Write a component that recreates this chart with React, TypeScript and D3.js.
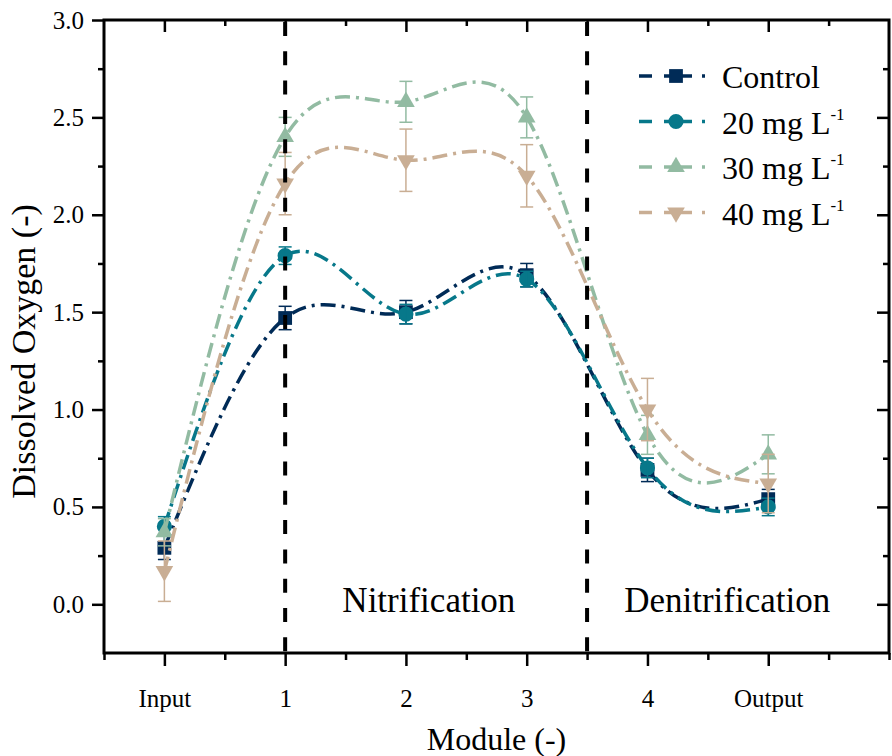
import React, { useEffect, useRef } from 'react';
import * as d3 from 'd3';

// module positions on the x axis
const modules = ['Input', '1', '2', '3', '4', 'Output'];

// dissolved oxygen means and error bars
const controlDO = [0.29, 1.47, 1.50, 1.69, 0.69, 0.54];
const controlErr = [0.06, 0.06, 0.06, 0.06, 0.06, 0.05];
const mg20DO = [0.40, 1.79, 1.49, 1.67, 0.70, 0.50];
const mg20Err = [0.05, 0.045, 0.05, 0.04, 0.05, 0.045];
const mg30DO = [0.37, 2.40, 2.58, 2.50, 0.87, 0.77];
const mg30Err = [0.07, 0.10, 0.105, 0.105, 0.10, 0.10];
const mg40DO = [0.17, 2.16, 2.28, 2.20, 1.00, 0.62];
const mg40Err = [0.155, 0.16, 0.16, 0.16, 0.16, 0.15];

const seriesLabels = ['Control', '20 mg L', '30 mg L', '40 mg L'];
const seriesColors = ['#002b57', '#07788a', '#92bba2', '#c9ae94'];
const yTicks = [0, 0.5, 1, 1.5, 2, 2.5, 3];
const yMinor = [0.25, 0.75, 1.25, 1.75, 2.25, 2.75];
const xMinor = [-0.5, 0.5, 1.5, 2.5, 3.5, 4.5, 5.5, 6];
const dividers = [1, 3.5];
const regions = [{ name: 'Nitrification', at: 2.19 }, { name: 'Denitrification', at: 4.66 }];

const W = 892;
const H = 756;
const FONT = '"Liberation Serif", "Times New Roman", serif';

export default function App() {
  const ref = useRef<SVGSVGElement>(null);

  useEffect(() => {
    const svg = d3.select(ref.current);
    svg.selectAll('*').remove();

    const left = 104, top = 20, right = 889, bottom = 653;
    const x = d3.scaleLinear().domain([-0.5, 6]).range([left, right]);
    const y = d3.scaleLinear().domain([-0.25, 3.0]).range([bottom, top]);

    const series = [
      { mean: controlDO, err: controlErr, sym: d3.symbolSquare, size: 190, rot: 0 },
      { mean: mg20DO, err: mg20Err, sym: d3.symbolCircle, size: 180, rot: 0 },
      { mean: mg30DO, err: mg30Err, sym: d3.symbolTriangle, size: 135, rot: 0 },
      { mean: mg40DO, err: mg40Err, sym: d3.symbolTriangle, size: 135, rot: 180 },
    ];

    const styleAxis = (g: any) => {
      g.select('.domain').remove();
      g.attr('font-family', FONT);
      g.selectAll('line').attr('stroke', '#000').attr('stroke-width', 2.5);
      g.selectAll('text').attr('font-family', FONT).attr('font-size', 25).attr('fill', '#000');
    };

    // axes: left / bottom outward, top / right inward
    svg.append('g').attr('transform', `translate(${left},0)`)
      .call(d3.axisLeft(y).tickValues(yTicks).tickSize(12).tickPadding(8).tickFormat(d3.format('.1f')))
      .call(styleAxis);
    svg.append('g').attr('transform', `translate(${left},0)`)
      .call(d3.axisLeft(y).tickValues(yMinor).tickSize(6).tickFormat(() => ''))
      .call(styleAxis);
    svg.append('g').attr('transform', `translate(0,${bottom})`)
      .call(d3.axisBottom(x).tickValues(d3.range(modules.length)).tickSize(13).tickPadding(23)
        .tickFormat(i => modules[i as number]))
      .call(styleAxis);
    svg.append('g').attr('transform', `translate(0,${bottom})`)
      .call(d3.axisBottom(x).tickValues(xMinor).tickSize(7).tickFormat(() => ''))
      .call(styleAxis);
    svg.append('g').attr('transform', `translate(0,${top})`)
      .call(d3.axisTop(x).tickValues(d3.range(modules.length)).tickSize(-12).tickFormat(() => ''))
      .call(styleAxis);
    svg.append('g').attr('transform', `translate(0,${top})`)
      .call(d3.axisTop(x).tickValues(xMinor.filter(v => v > -0.5 && v < 6)).tickSize(-6).tickFormat(() => ''))
      .call(styleAxis);
    svg.append('g').attr('transform', `translate(${right},0)`)
      .call(d3.axisRight(y).tickValues(yTicks.filter(v => v < 3)).tickSize(-12).tickFormat(() => ''))
      .call(styleAxis);
    svg.append('g').attr('transform', `translate(${right},0)`)
      .call(d3.axisRight(y).tickValues(yMinor).tickSize(-6).tickFormat(() => ''))
      .call(styleAxis);

    svg.append('rect')
      .attr('x', left).attr('y', top)
      .attr('width', right - left).attr('height', bottom - top)
      .attr('fill', 'none').attr('stroke', '#000').attr('stroke-width', 3);

    // series: spline, markers, error bars
    const line = d3.line<number>()
      .x((_, i) => x(i))
      .y(d => y(d))
      .curve(d3.curveNatural);

    series.forEach((s, k) => {
      const c = seriesColors[k];
      const g = svg.append('g');
      g.append('path')
        .datum(s.mean)
        .attr('fill', 'none')
        .attr('stroke', c)
        .attr('stroke-width', 3.5)
        .attr('stroke-dasharray', '15 6 3 6')
        .attr('d', line);
      g.selectAll('.mk')
        .data(s.mean)
        .enter()
        .append('path')
        .attr('transform', (d, i) => `translate(${x(i)},${y(d)}) rotate(${s.rot})`)
        .attr('d', d3.symbol().type(s.sym).size(s.size)())
        .attr('fill', c);
      const eb = g.selectAll('.eb')
        .data(s.mean)
        .enter()
        .append('g')
        .attr('stroke', c)
        .attr('stroke-width', 1.5);
      eb.append('line')
        .attr('x1', (_, i) => x(i)).attr('x2', (_, i) => x(i))
        .attr('y1', (d, i) => y(d + s.err[i])).attr('y2', (d, i) => y(d - s.err[i]));
      eb.append('line')
        .attr('x1', (_, i) => x(i) - 6.5).attr('x2', (_, i) => x(i) + 6.5)
        .attr('y1', (d, i) => y(d + s.err[i])).attr('y2', (d, i) => y(d + s.err[i]));
      eb.append('line')
        .attr('x1', (_, i) => x(i) - 6.5).attr('x2', (_, i) => x(i) + 6.5)
        .attr('y1', (d, i) => y(d - s.err[i])).attr('y2', (d, i) => y(d - s.err[i]));
    });

    // stage dividers
    svg.selectAll('.div')
      .data(dividers)
      .enter()
      .append('line')
      .attr('x1', d => x(d)).attr('x2', d => x(d))
      .attr('y1', top + 2).attr('y2', bottom)
      .attr('stroke', '#000')
      .attr('stroke-width', 4)
      .attr('stroke-dasharray', '14 15.3');

    svg.selectAll('.region')
      .data(regions)
      .enter()
      .append('text')
      .attr('x', d => x(d.at))
      .attr('y', 612)
      .attr('text-anchor', 'middle')
      .attr('font-family', FONT)
      .attr('font-size', 35)
      .text(d => d.name);

    // legend
    const lg = svg.append('g');
    seriesLabels.forEach((name, k) => {
      const s = series[k];
      const c = seriesColors[k];
      const ry = 76 + k * 45.5;
      lg.append('line')
        .attr('x1', 639).attr('x2', 708).attr('y1', ry).attr('y2', ry)
        .attr('stroke', c).attr('stroke-width', 3.5)
        .attr('stroke-dasharray', '13 12 28 10 3 20');
      lg.append('path')
        .attr('transform', `translate(676,${ry}) rotate(${s.rot})`)
        .attr('d', d3.symbol().type(s.sym).size(s.size)())
        .attr('fill', c);
      const t = lg.append('text')
        .attr('x', 722).attr('y', ry + 12)
        .attr('font-family', FONT).attr('font-size', 32)
        .text(name);
      if (k > 0) {
        t.append('tspan').attr('font-size', 17).attr('dy', -14).text('-1');
      }
    });

    // axis titles
    svg.append('text')
      .attr('x', (left + right) / 2).attr('y', 750)
      .attr('text-anchor', 'middle')
      .attr('font-family', FONT).attr('font-size', 32)
      .text('Module (-)');
    svg.append('text')
      .attr('transform', `translate(35,${(top + bottom) / 2 + 15}) rotate(-90)`)
      .attr('text-anchor', 'middle')
      .attr('font-family', FONT).attr('font-size', 34)
      .text('Dissolved Oxygen (-)');
  }, []);

  return (
    <svg
      ref={ref}
      width={W}
      height={H}
      style={{ position: 'absolute', left: 0, top: 0, background: '#fff', fontFamily: FONT }}
    />
  );
}
